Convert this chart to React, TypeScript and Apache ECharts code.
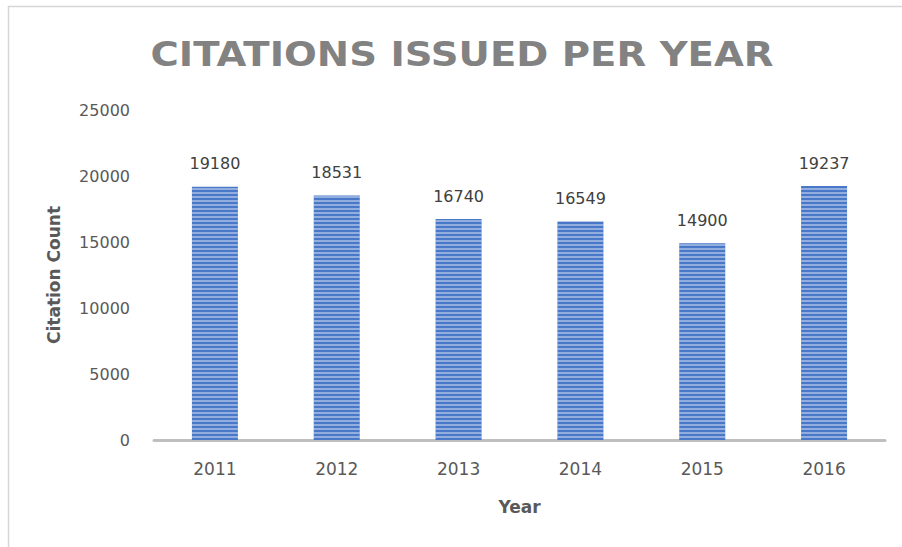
import React, { useEffect, useRef } from "react";
import * as echarts from "echarts";

const years = ["2011", "2012", "2013", "2014", "2015", "2016"];
const citations = [19180, 18531, 16740, 16549, 14900, 19237];
const titleText = "CITATIONS ISSUED PER YEAR";
const xName = "Year";
const yName = "Citation Count";

export default function App() {
  const ref = useRef<HTMLDivElement>(null);
  useEffect(() => {
    if (!ref.current) return;
    const chart = echarts.init(ref.current, null, { renderer: "svg" });
    chart.setOption({
      animation: false,
      backgroundColor: "#ffffff",
      graphic: [
        { type: "line", shape: { x1: 8, y1: 6.5, x2: 902, y2: 6.5 }, style: { stroke: "#d6d6d6", lineWidth: 1.5 } },
        { type: "line", shape: { x1: 8.5, y1: 6, x2: 8.5, y2: 547 }, style: { stroke: "#d6d6d6", lineWidth: 1.5 } },
        {
          type: "text",
          x: 462,
          y: 55,
          scaleX: 1.17,
          style: {
            text: titleText,
            font: "bold 33px 'DejaVu Sans'",
            fill: "#828282",
            align: "center",
            verticalAlign: "middle",
          },
        },
      ],
      grid: { left: 154, right: 17, top: 110, bottom: 107, containLabel: false, outerBoundsMode: "none" },
      xAxis: {
        type: "category",
        data: years,
        name: xName,
        nameLocation: "middle",
        nameGap: 58,
        nameTextStyle: { fontFamily: "DejaVu Sans", fontWeight: "bold", fontSize: 17, color: "#595959" },
        axisLine: { lineStyle: { color: "#bfbfbf", width: 3 } },
        axisTick: { show: false },
        axisLabel: { fontFamily: "DejaVu Sans", fontSize: 17, color: "#595959", margin: 20 },
      },
      yAxis: {
        type: "value",
        min: 0,
        max: 25000,
        interval: 5000,
        name: yName,
        nameLocation: "middle",
        nameGap: 92,
        nameTextStyle: { fontFamily: "DejaVu Sans", fontWeight: "bold", fontSize: 17, color: "#595959" },
        axisLine: { show: false },
        axisTick: { show: false },
        splitLine: { show: false },
        axisLabel: {
          fontFamily: "DejaVu Sans",
          fontSize: 16,
          color: "#595959",
          margin: 24,
          formatter: (v: number) => String(v),
        },
      },
      series: [
        {
          type: "bar",
          data: citations,
          barWidth: 46,
          itemStyle: {
            color: "#4a78c8",
            decal: {
              symbol: "rect",
              symbolSize: 1,
              dashArrayX: [[1, 0]],
              dashArrayY: [2, 2],
              rotation: 0,
              color: "rgba(255,255,255,0.4)",
            },
          },
          label: {
            show: true,
            position: "top",
            distance: 15,
            fontFamily: "DejaVu Sans",
            fontSize: 16,
            color: "#404040",
          },
        },
      ],
    });
    return () => chart.dispose();
  }, []);
  return <div ref={ref} style={{ position: "fixed", left: 0, top: 0, width: 902, height: 547 }} />;
}
